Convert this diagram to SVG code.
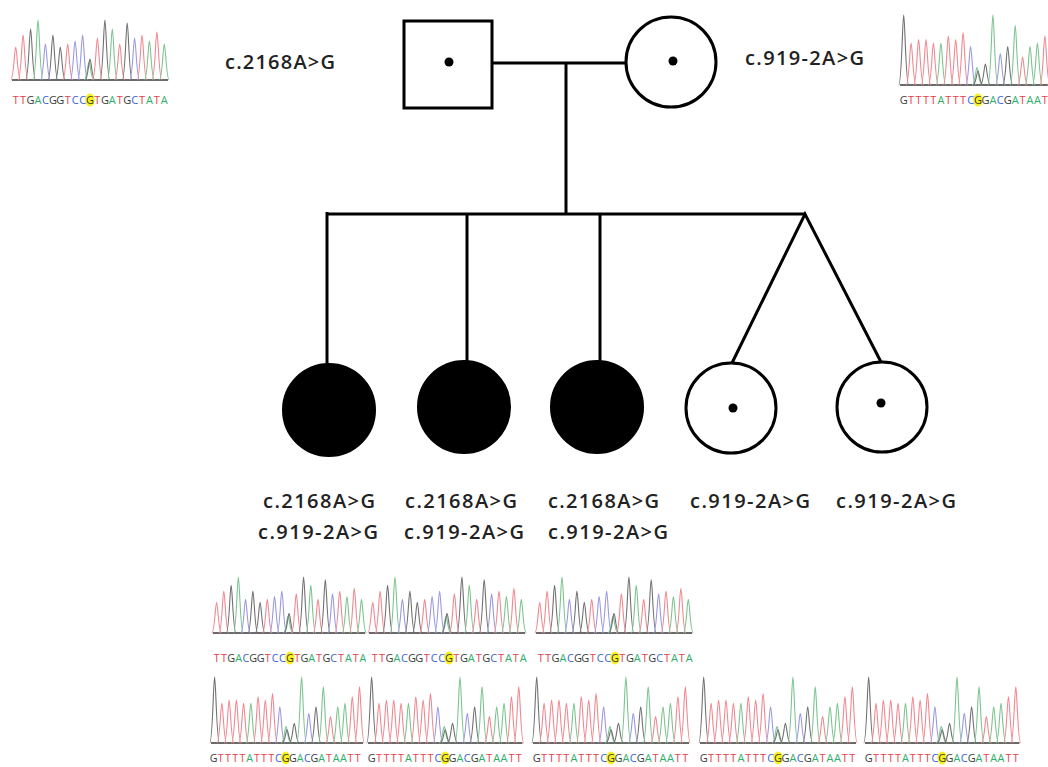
<svg xmlns="http://www.w3.org/2000/svg" xmlns:xlink="http://www.w3.org/1999/xlink" width="1048" height="767" viewBox="0 0 1048 767">
<style>
.ln{fill:none;stroke:#000;stroke-width:3}
.sym{fill:#fff;stroke:#000;stroke-width:3}
.aff{fill:#000;stroke:#000;stroke-width:2}
.dot{fill:#000}
.lbl{font-family:"Open Sans","DejaVu Sans",sans-serif;font-weight:600;font-size:20px;fill:#222}
.pk{fill:none}
#pk{fill:none;stroke-width:1.1;vector-effect:non-scaling-stroke}
.T{stroke:#f08890}.A{stroke:#7cc48e}.C{stroke:#9a98e2}.G{stroke:#707070}
.base{stroke:#6a6a6a;stroke-width:2;vector-effect:non-scaling-stroke}
.seq{font-family:"Open Sans","Liberation Sans",sans-serif;font-size:11px;text-anchor:middle}
.tT{fill:#e8404a}.tA{fill:#2fae6a}.tC{fill:#3a64d0}.tG{fill:#3a3a3a}
.hl{fill:#f8f020}
</style>
<defs>
<path id="pk" d="M-5,0 C-2,0 -1.2,-1 0,-1 C1.2,-1 2,0 5,0"/>
<g id="tr1">
<line class="base" x1="0" y1="60" x2="156" y2="60"/>
<use href="#pk" class="pk T" transform="translate(3.7,60) scale(1,33)"/>
<use href="#pk" class="pk T" transform="translate(11.1,60) scale(1,45)"/>
<use href="#pk" class="pk G" transform="translate(18.6,60) scale(1,51)"/>
<use href="#pk" class="pk A" transform="translate(26,60) scale(1,60)"/>
<use href="#pk" class="pk C" transform="translate(33.4,60) scale(1,36)"/>
<use href="#pk" class="pk G" transform="translate(40.9,60) scale(1,45)"/>
<use href="#pk" class="pk G" transform="translate(48.3,60) scale(1,33)"/>
<use href="#pk" class="pk T" transform="translate(55.7,60) scale(1,36)"/>
<use href="#pk" class="pk C" transform="translate(63.1,60) scale(1,39)"/>
<use href="#pk" class="pk C" transform="translate(70.6,60) scale(1,45)"/>
<use href="#pk" class="pk A" transform="translate(77,60) scale(1,18)"/>
<use href="#pk" class="pk G" transform="translate(78,60) scale(1,21)"/>
<use href="#pk" class="pk T" transform="translate(85.4,60) scale(1,42)"/>
<use href="#pk" class="pk G" transform="translate(92.9,60) scale(1,60)"/>
<use href="#pk" class="pk A" transform="translate(100.3,60) scale(1,51)"/>
<use href="#pk" class="pk T" transform="translate(107.7,60) scale(1,36)"/>
<use href="#pk" class="pk G" transform="translate(115.2,60) scale(1,57)"/>
<use href="#pk" class="pk C" transform="translate(122.6,60) scale(1,42)"/>
<use href="#pk" class="pk T" transform="translate(130,60) scale(1,45)"/>
<use href="#pk" class="pk A" transform="translate(137.4,60) scale(1,39)"/>
<use href="#pk" class="pk T" transform="translate(144.9,60) scale(1,48)"/>
<use href="#pk" class="pk A" transform="translate(152.3,60) scale(1,36)"/>
</g>
<g id="tr2">
<line class="base" x1="0" y1="60" x2="156" y2="60"/>
<use href="#pk" class="pk G" transform="translate(3.7,60) scale(1,60)"/>
<use href="#pk" class="pk T" transform="translate(11.1,60) scale(1,36)"/>
<use href="#pk" class="pk T" transform="translate(18.6,60) scale(1,39)"/>
<use href="#pk" class="pk T" transform="translate(26,60) scale(1,39)"/>
<use href="#pk" class="pk T" transform="translate(33.4,60) scale(1,36)"/>
<use href="#pk" class="pk A" transform="translate(40.9,60) scale(1,36)"/>
<use href="#pk" class="pk T" transform="translate(48.3,60) scale(1,42)"/>
<use href="#pk" class="pk T" transform="translate(55.7,60) scale(1,39)"/>
<use href="#pk" class="pk T" transform="translate(63.1,60) scale(1,45)"/>
<use href="#pk" class="pk C" transform="translate(70.6,60) scale(1,33)"/>
<use href="#pk" class="pk A" transform="translate(77,60) scale(1,15)"/>
<use href="#pk" class="pk G" transform="translate(78,60) scale(1,12)"/>
<use href="#pk" class="pk G" transform="translate(85.4,60) scale(1,18)"/>
<use href="#pk" class="pk A" transform="translate(92.9,60) scale(1,60)"/>
<use href="#pk" class="pk C" transform="translate(100.3,60) scale(1,27)"/>
<use href="#pk" class="pk G" transform="translate(107.7,60) scale(1,33)"/>
<use href="#pk" class="pk A" transform="translate(115.2,60) scale(1,51)"/>
<use href="#pk" class="pk T" transform="translate(122.6,60) scale(1,24)"/>
<use href="#pk" class="pk A" transform="translate(130,60) scale(1,33)"/>
<use href="#pk" class="pk A" transform="translate(137.4,60) scale(1,36)"/>
<use href="#pk" class="pk T" transform="translate(144.9,60) scale(1,42)"/>
<use href="#pk" class="pk T" transform="translate(152.3,60) scale(1,51)"/>
</g>
<g id="sq1">
<ellipse class="hl" cx="78" cy="-4" rx="4.8" ry="6.5"/>
<text class="seq"><tspan class="tT" x="3.7">T</tspan><tspan class="tT" x="11.1">T</tspan><tspan class="tG" x="18.6">G</tspan><tspan class="tA" x="26">A</tspan><tspan class="tC" x="33.4">C</tspan><tspan class="tG" x="40.9">G</tspan><tspan class="tG" x="48.3">G</tspan><tspan class="tT" x="55.7">T</tspan><tspan class="tC" x="63.1">C</tspan><tspan class="tC" x="70.6">C</tspan><tspan class="tG" x="78">G</tspan><tspan class="tT" x="85.4">T</tspan><tspan class="tG" x="92.9">G</tspan><tspan class="tA" x="100.3">A</tspan><tspan class="tT" x="107.7">T</tspan><tspan class="tG" x="115.2">G</tspan><tspan class="tC" x="122.6">C</tspan><tspan class="tT" x="130">T</tspan><tspan class="tA" x="137.4">A</tspan><tspan class="tT" x="144.9">T</tspan><tspan class="tA" x="152.3">A</tspan></text>
</g>
<g id="sq2">
<ellipse class="hl" cx="78" cy="-4" rx="4.8" ry="6.5"/>
<text class="seq"><tspan class="tG" x="3.7">G</tspan><tspan class="tT" x="11.1">T</tspan><tspan class="tT" x="18.6">T</tspan><tspan class="tT" x="26">T</tspan><tspan class="tT" x="33.4">T</tspan><tspan class="tA" x="40.9">A</tspan><tspan class="tT" x="48.3">T</tspan><tspan class="tT" x="55.7">T</tspan><tspan class="tT" x="63.1">T</tspan><tspan class="tC" x="70.6">C</tspan><tspan class="tG" x="78">G</tspan><tspan class="tG" x="85.4">G</tspan><tspan class="tA" x="92.9">A</tspan><tspan class="tC" x="100.3">C</tspan><tspan class="tG" x="107.7">G</tspan><tspan class="tA" x="115.2">A</tspan><tspan class="tT" x="122.6">T</tspan><tspan class="tA" x="130">A</tspan><tspan class="tA" x="137.4">A</tspan><tspan class="tT" x="144.9">T</tspan><tspan class="tT" x="152.3">T</tspan></text>
</g>
<clipPath id="c1"><rect x="200" y="640" width="166" height="30"/></clipPath>
<clipPath id="c2"><rect x="200" y="745" width="161" height="22"/></clipPath>
</defs>
<rect width="1048" height="767" fill="#fff"/>

<g id="connectors">
<line class="ln" x1="492" y1="63" x2="626" y2="63"/>
<line class="ln" x1="566" y1="63" x2="566" y2="214"/>
<line class="ln" x1="327" y1="214" x2="806" y2="214"/>
<line class="ln" x1="327" y1="212" x2="327" y2="364"/>
<line class="ln" x1="467" y1="214" x2="467" y2="361"/>
<line class="ln" x1="600" y1="214" x2="600" y2="361"/>
<polyline class="ln" points="732,363 805,214 881,362"/>
</g>

<g id="father">
<rect class="sym" x="404" y="21" width="88" height="87"/>
<circle class="dot" cx="449" cy="62" r="4.5"/>
<text class="lbl" x="225" y="69" textLength="110" lengthAdjust="spacing">c.2168A&gt;G</text>
</g>
<g id="mother">
<circle class="sym" cx="671" cy="62" r="45"/>
<circle class="dot" cx="673" cy="61" r="4.5"/>
<text class="lbl" x="745" y="65" textLength="119" lengthAdjust="spacing">c.919-2A&gt;G</text>
</g>
<g id="child1">
<circle class="aff" cx="329" cy="410" r="46"/>
<text class="lbl" x="263" y="508" textLength="112" lengthAdjust="spacing">c.2168A&gt;G</text>
<text class="lbl" x="258" y="539" textLength="120" lengthAdjust="spacing">c.919-2A&gt;G</text>
</g>
<g id="child2">
<circle class="aff" cx="464" cy="407" r="46"/>
<text class="lbl" x="405" y="508" textLength="112" lengthAdjust="spacing">c.2168A&gt;G</text>
<text class="lbl" x="404" y="539" textLength="120" lengthAdjust="spacing">c.919-2A&gt;G</text>
</g>
<g id="child3">
<circle class="aff" cx="597" cy="407" r="46"/>
<text class="lbl" x="548" y="508" textLength="111" lengthAdjust="spacing">c.2168A&gt;G</text>
<text class="lbl" x="548" y="539" textLength="120" lengthAdjust="spacing">c.919-2A&gt;G</text>
</g>
<g id="child4">
<circle class="sym" cx="731" cy="408" r="45"/>
<circle class="dot" cx="733" cy="408" r="4.5"/>
<text class="lbl" x="690" y="508" textLength="120" lengthAdjust="spacing">c.919-2A&gt;G</text>
</g>
<g id="child5">
<circle class="sym" cx="882" cy="407" r="45"/>
<circle class="dot" cx="881" cy="403" r="4.5"/>
<text class="lbl" x="836" y="508" textLength="120" lengthAdjust="spacing">c.919-2A&gt;G</text>
</g>

<g id="chromatograms">
<use href="#tr1" transform="translate(12,20)"/>
<use href="#sq1" transform="translate(12,104)"/>
<use href="#tr2" transform="translate(900,15) scale(1,1.167)"/>
<use href="#sq2" transform="translate(900,104)"/>

<use href="#tr1" transform="translate(213,577) scale(0.975,0.933)"/>
<g clip-path="url(#c1)"><use href="#sq1" transform="translate(213,662) scale(0.985,1)"/></g>
<use href="#tr1" transform="translate(369,577) scale(1,0.933)"/>
<use href="#sq1" transform="translate(371,662)"/>
<use href="#tr1" transform="translate(536,577) scale(1,0.933)"/>
<use href="#sq1" transform="translate(537,662)"/>

<use href="#tr2" transform="translate(211,677) scale(0.975,1.1)"/>
<g clip-path="url(#c2)"><use href="#sq2" transform="translate(210,762) scale(0.97,1)"/></g>
<use href="#tr2" transform="translate(368,677) scale(0.99,1.1)"/>
<use href="#sq2" transform="translate(368,762) scale(0.99,1)"/>
<use href="#tr2" transform="translate(533,677) scale(1,1.1)"/>
<use href="#sq2" transform="translate(533,762)"/>
<use href="#tr2" transform="translate(700,677) scale(1,1.1)"/>
<use href="#sq2" transform="translate(700,762)"/>
<use href="#tr2" transform="translate(865,677) scale(0.99,1.1)"/>
<use href="#sq2" transform="translate(865,762) scale(0.99,1)"/>
</g>
</svg>
